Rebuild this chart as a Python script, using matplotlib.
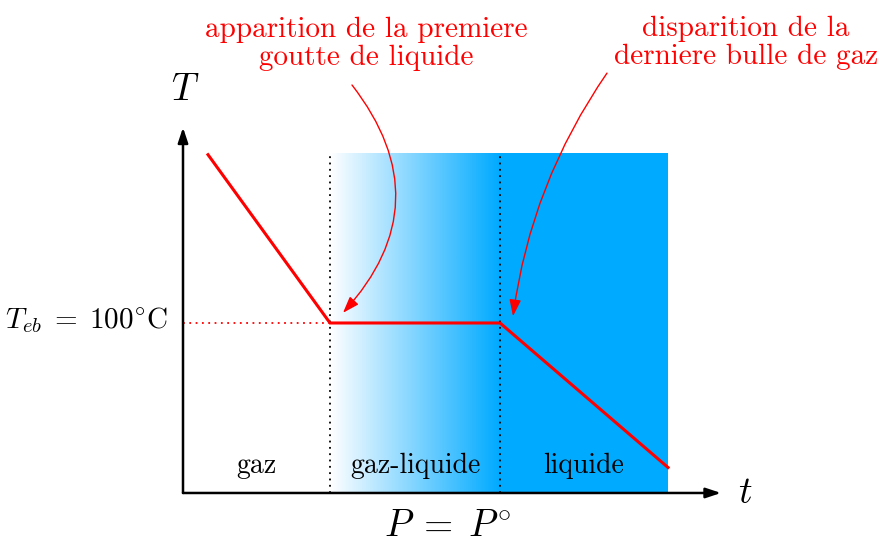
import matplotlib.pyplot as plt
import numpy as np
from matplotlib.colors import LinearSegmentedColormap

plt.rcParams['mathtext.fontset'] = 'cm'
plt.rcParams['axes.unicode_minus'] = False

# temperature curve T(t)
t_curve = [0.25, 1.47, 3.17, 4.85]
T_curve = [199, 100, 100, 15]
T_eb = 100

# phase zones (t start, t end) and labels
zone_edges = [0.0, 1.47, 3.17, 4.85]
zone_labels = ['gaz', 'gaz-liquide', 'liquide']
T_top = 200

blue = '#00AAFF'
red = '#FF0000'

fig = plt.figure(figsize=(8.81, 5.45), dpi=100)
ax = fig.add_axes([0, 0, 1, 1])
ax.set_xlim(-1.83, 6.98)
ax.set_ylim(-30.6, 290)
ax.axis('off')

# gradient in gaz-liquide zone, solid blue in liquide zone
cmap = LinearSegmentedColormap.from_list('wb', ['white', blue])
grad = np.linspace(0, 1, 256).reshape(1, -1)
ax.imshow(grad, cmap=cmap, aspect='auto', interpolation='bilinear',
          extent=[zone_edges[1], zone_edges[2], 0, T_top], zorder=1)
ax.fill_between([zone_edges[2], zone_edges[3]], 0, T_top, color=blue, lw=0, zorder=1)

# dotted separators
for xv in zone_edges[1:3]:
    ax.plot([xv, xv], [0, T_top], color='k', ls=(0, (1, 2.5)), lw=1.3, zorder=2)
ax.plot([0, t_curve[1]], [T_eb, T_eb], color=red, ls=(0, (1, 2.5)), lw=1.3, zorder=2)

# curve
ax.plot(t_curve, T_curve, color=red, lw=2.2, zorder=3, solid_joinstyle='miter')

# axes with arrows
arrow = dict(arrowstyle='-|>,head_length=0.9,head_width=0.3', lw=1.8, color='k',
             shrinkA=0, shrinkB=0)
ax.annotate('', xy=(5.38, 0), xytext=(0, 0), arrowprops=arrow, zorder=4)
ax.annotate('', xy=(0, 215), xytext=(0, 0), arrowprops=arrow, zorder=4)

ax.text(0.02, 237, '$T$', fontsize=27, ha='center', va='center')
ax.text(5.62, 0, '$t$', fontsize=27, ha='center', va='center')
ax.text(2.64, -19.5, r'$P\;=\;P^{\circ}$', fontsize=27, ha='center', va='center')
ax.text(-0.15, T_eb + 2, r'$T_{eb}\;=\;100^{\circ}\mathrm{C}$', fontsize=21,
        ha='right', va='center')

for i, lab in enumerate(zone_labels):
    xc = (zone_edges[i] + zone_edges[i + 1]) / 2
    ax.text(xc, 16, lab, fontsize=20, family='cmr10', ha='center', va='center')

# annotations
ax.text(1.83, 264, 'apparition de la premiere\ngoutte de liquide', fontsize=21,
        family='cmr10', color=red, ha='center', va='center', linespacing=1.08)
ax.text(5.63, 265, 'disparition de la\nderniere bulle de gaz', fontsize=21,
        family='cmr10', color=red, ha='center', va='center', linespacing=1.08)

head = dict(arrowstyle='-|>,head_length=1.0,head_width=0.35', lw=1.0, color=red,
            shrinkA=0, shrinkB=0)
ax.annotate('', xy=(1.60, 106), xytext=(1.69, 240),
            arrowprops=dict(head, connectionstyle='arc3,rad=-0.42'), zorder=5)
ax.annotate('', xy=(3.30, 104), xytext=(4.24, 247),
            arrowprops=dict(head, connectionstyle='arc3,rad=0.12'), zorder=5)

fig.savefig('out.png', dpi=100)
